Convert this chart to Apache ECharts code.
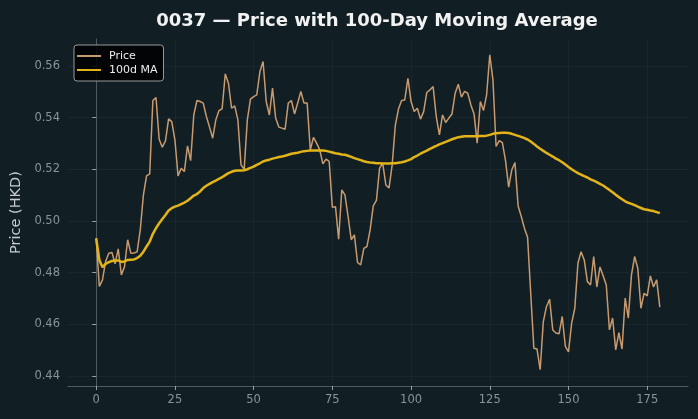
<!DOCTYPE html>
<html>
<head>
<meta charset="utf-8">
<script src="https://cdn.jsdelivr.net/npm/echarts@6/dist/echarts.min.js"></script>
<style>
  html, body { margin: 0; padding: 0; background: #111f25; }
  #main { width: 698px; height: 419px; }
</style>
</head>
<body>
<div id="main"></div>
<script>
// daily close (day 0 .. 179)
const price = [
  0.4933, 0.4746, 0.4772, 0.4843, 0.4875, 0.4878, 0.4834, 0.4892, 0.4791, 0.4823,
  0.4927, 0.4875, 0.4876, 0.4880, 0.4965, 0.5101, 0.5174, 0.5182, 0.5466, 0.5477,
  0.5316, 0.5285, 0.5310, 0.5395, 0.5384, 0.5314, 0.5174, 0.5204, 0.5191, 0.5290,
  0.5233, 0.5410, 0.5466, 0.5462, 0.5456, 0.5404, 0.5363, 0.5320, 0.5391, 0.5427,
  0.5434, 0.5569, 0.5533, 0.5436, 0.5445, 0.5391, 0.5217, 0.5200, 0.5391, 0.5471,
  0.5481, 0.5488, 0.5578, 0.5617, 0.5462, 0.5410, 0.5514, 0.5398, 0.5363, 0.5359,
  0.5355, 0.5456, 0.5466, 0.5414, 0.5456, 0.5501, 0.5456, 0.5456, 0.5275, 0.5323,
  0.5301, 0.5275, 0.5221, 0.5239, 0.5230, 0.5053, 0.5055, 0.4929, 0.5120, 0.5101,
  0.5017, 0.4927, 0.4946, 0.4839, 0.4830, 0.4894, 0.4901, 0.4965, 0.5058, 0.5079,
  0.5204, 0.5223, 0.5139, 0.5127, 0.5217, 0.5370, 0.5433, 0.5466, 0.5468, 0.5552,
  0.5462, 0.5423, 0.5436, 0.5394, 0.5423, 0.5497, 0.5507, 0.5520, 0.5404, 0.5333,
  0.5410, 0.5381, 0.5398, 0.5414, 0.5494, 0.5529, 0.5479, 0.5501, 0.5494, 0.5449,
  0.5414, 0.5301, 0.5462, 0.5427, 0.5488, 0.5643, 0.5546, 0.5288, 0.5311, 0.5303,
  0.5233, 0.5131, 0.5198, 0.5226, 0.5058, 0.5017, 0.4972, 0.4937, 0.4720, 0.4507,
  0.4504, 0.4424, 0.4610, 0.4668, 0.4697, 0.4578, 0.4566, 0.4563, 0.4630, 0.4514,
  0.4493, 0.4604, 0.4662, 0.4836, 0.4881, 0.4849, 0.4765, 0.4752, 0.4862, 0.4744,
  0.4822, 0.4788, 0.4752, 0.4578, 0.4624, 0.4501, 0.4568, 0.4504, 0.4701, 0.4624,
  0.4791, 0.4862, 0.4817, 0.4662, 0.4720, 0.4710, 0.4787, 0.4744, 0.4772, 0.4666
]

// 100-day moving average, also
const ma100 = [
  0.4933, 0.4849, 0.4821, 0.4834, 0.4840, 0.4845, 0.4847, 0.4847, 0.4841, 0.4843,
  0.4849, 0.4850, 0.4851, 0.4856, 0.4865, 0.4881, 0.4901, 0.4920, 0.4950, 0.4972,
  0.4991, 0.5007, 0.5023, 0.5040, 0.5049, 0.5055, 0.5059, 0.5065, 0.5071, 0.5078,
  0.5088, 0.5098, 0.5104, 0.5114, 0.5127, 0.5136, 0.5143, 0.5150, 0.5156, 0.5163,
  0.5169, 0.5177, 0.5185, 0.5190, 0.5194, 0.5195, 0.5195, 0.5196, 0.5200, 0.5205,
  0.5210, 0.5217, 0.5223, 0.5230, 0.5234, 0.5237, 0.5241, 0.5244, 0.5247, 0.5249,
  0.5252, 0.5256, 0.5260, 0.5262, 0.5264, 0.5267, 0.5270, 0.5271, 0.5272, 0.5272,
  0.5272, 0.5272, 0.5272, 0.5271, 0.5268, 0.5265, 0.5262, 0.5260, 0.5257, 0.5256,
  0.5252, 0.5248, 0.5243, 0.5239, 0.5235, 0.5231, 0.5228, 0.5226, 0.5225, 0.5223,
  0.5223, 0.5222, 0.5222, 0.5222, 0.5223, 0.5223, 0.5225, 0.5227, 0.5230, 0.5234,
  0.5239, 0.5247, 0.5253, 0.5260, 0.5266, 0.5272, 0.5279, 0.5285, 0.5290, 0.5296,
  0.5301, 0.5306, 0.5311, 0.5316, 0.5320, 0.5324, 0.5326, 0.5328, 0.5328, 0.5328,
  0.5328, 0.5328, 0.5329, 0.5329, 0.5330, 0.5333, 0.5337, 0.5339, 0.5340, 0.5341,
  0.5341, 0.5340, 0.5337, 0.5333, 0.5329, 0.5325, 0.5320, 0.5315, 0.5307, 0.5298,
  0.5288, 0.5279, 0.5271, 0.5263, 0.5256, 0.5249, 0.5241, 0.5235, 0.5227, 0.5218,
  0.5209, 0.5200, 0.5192, 0.5185, 0.5179, 0.5173, 0.5168, 0.5161, 0.5156, 0.5150,
  0.5143, 0.5137, 0.5128, 0.5120, 0.5111, 0.5101, 0.5092, 0.5084, 0.5076, 0.5070,
  0.5066, 0.5061, 0.5055, 0.5050, 0.5045, 0.5043, 0.5040, 0.5038, 0.5034, 0.5030
]

const xTicks = [0, 25, 50, 75, 100, 125, 150, 175]
const yTicks = [0.44, 0.46, 0.48, 0.50, 0.52, 0.54, 0.56]

const labelColor = '#8b9398'
const spineColor = '#4f5a5f'
const gridColor = 'rgba(255,255,255,0.035)'

const myChart = echarts.init(document.getElementById('main'), null, {renderer: 'canvas'})

const option = {
  backgroundColor: '#111f25',
  textStyle: {fontFamily: 'DejaVu Sans'},
  title: {
    text: '0037 — Price with 100-Day Moving Average',
    left: 372,
    textAlign: 'center',
    top: 7,
    textStyle: {color: '#f2f2f2', fontSize: 18, fontWeight: 'bold', fontFamily: 'DejaVu Sans'}
  },
  legend: {
    orient: 'vertical',
    left: 74,
    top: 45,
    padding: [4, 6, 4, 3],
    icon: 'rect',
    itemWidth: 24,
    itemHeight: 2,
    itemGap: 0,
    backgroundColor: 'rgba(0,0,0,0.85)',
    borderColor: '#9a9a9a',
    borderWidth: 1,
    borderRadius: 3,
    textStyle: {color: '#ececec', fontSize: 11, lineHeight: 14, padding: [0, 0, 0, 3]},
    data: ['Price', '100d MA']
  },
  grid: {left: 68, right: 10, top: 39, bottom: 33},
  xAxis: {
    type: 'value',
    min: -8.95,
    max: 187.95,
    axisLine: {lineStyle: {color: spineColor}},
    axisTick: {length: 4, lineStyle: {color: '#9aa2a6'}, customValues: xTicks},
    axisLabel: {color: labelColor, fontSize: 11.5, margin: 8, customValues: xTicks},
    splitLine: {show: true, lineStyle: {color: gridColor}}
  },
  yAxis: {
    type: 'value',
    min: 0.4361,
    max: 0.5704,
    name: 'Price (HKD)',
    nameLocation: 'middle',
    nameGap: 44,
    nameTextStyle: {color: '#c5cbce', fontSize: 14.5},
    axisLine: {show: true, lineStyle: {color: spineColor}},
    axisTick: {show: true, length: 4, lineStyle: {color: '#9aa2a6'}, customValues: yTicks},
    axisLabel: {color: labelColor, fontSize: 11.5, margin: 8, customValues: yTicks,
      formatter: v => v.toFixed(2)},
    splitLine: {show: true, lineStyle: {color: gridColor}}
  },
  series: [
    {
      name: 'Price',
      type: 'line',
      symbol: 'none',
      data: price.map((v, i) => [i, v]),
      lineStyle: {color: '#c99a6e', width: 1.5},
      itemStyle: {color: '#c99a6e'},
      z: 2
    },
    {
      name: '100d MA',
      type: 'line',
      symbol: 'none',
      data: ma100.map((v, i) => [i, v]),
      lineStyle: {color: '#e3b418', width: 2.5},
      itemStyle: {color: '#e3b418'},
      z: 3
    }
  ]
}

option && myChart.setOption(option)
</script>
</body>
</html>
